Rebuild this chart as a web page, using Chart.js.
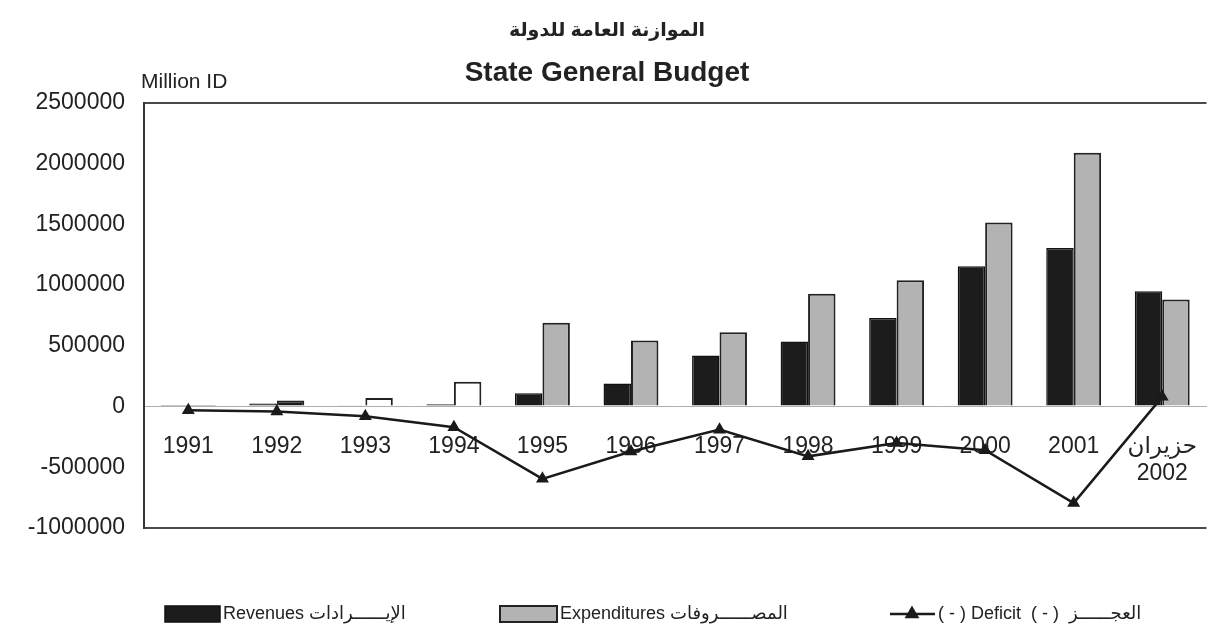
<!DOCTYPE html>
<html>
<head>
<meta charset="utf-8">
<script src="https://cdn.jsdelivr.net/npm/chart.js@4"></script>
<style>
html,body{margin:0;padding:0;background:#fff;}
#wrap{width:1214px;height:629px;position:relative;}
</style>
</head>
<body>
<div id="wrap"><canvas id="c" width="1214" height="629"></canvas></div>
<script>
// ---- data ----
const categories = ['1991','1992','1993','1994','1995','1996','1997','1998','1999','2000','2001',['حزيران','2002']];
const revenues = [4000, 25000, 6000, 20000, 110000, 190000, 420000, 535000, 730000, 1155000, 1305000, 950000];
const expenditures = [12000, 50000, 70000, 205000, 690000, 545000, 612000, 930000, 1040000, 1515000, 2090000, 882000];
const deficit = [-30000, -40000, -80000, -170000, -595000, -370000, -190000, -410000, -300000, -360000, -795000, 80000];
const yTicks = [-1000000, -500000, 0, 500000, 1000000, 1500000, 2000000, 2500000];
const titleArabic = 'الموازنة العامة للدولة';
const titleEnglish = 'State General Budget';
const unitLabel = 'Million ID';
const seriesLabels = ['Revenues الإيــــــرادات', 'Expenditures المصــــــروفات', '( - ) Deficit  ( - )  العجــــــز'];

const FONT = "'Liberation Sans', Arial, 'DejaVu Sans', sans-serif";
Chart.defaults.font.family = FONT;
Chart.defaults.color = '#222';

const DARK = '#1c1c1c';
const GRAY = '#b3b3b3';
// expenditure bars in the scan: first two small ones look dark, 1993/1994 hollow
function expFill(ctx) {
  const i = ctx.dataIndex;
  if (i <= 1) return DARK;
  if (i <= 3) return '#ffffff';
  return GRAY;
}

const extras = {
  id: 'extras',
  afterDraw(chart) {
    const ctx = chart.ctx;
    const ds = chart.data.datasets;
    ctx.save();
    // unit label
    ctx.font = '21px ' + FONT;
    ctx.fillStyle = '#222';
    ctx.textAlign = 'left';
    ctx.textBaseline = 'middle';
    ctx.fillText(unitLabel, 141, 82);

    // legend
    const y = 614;
    ctx.font = '18px ' + FONT;
    // revenues
    ctx.fillStyle = DARK;
    ctx.fillRect(165, y - 8, 55, 16);
    ctx.lineWidth = 1.5;
    ctx.strokeStyle = '#111';
    ctx.strokeRect(165, y - 8, 55, 16);
    ctx.fillStyle = '#222';
    ctx.fillText(ds[0].label, 223, y);
    // expenditures
    ctx.fillStyle = GRAY;
    ctx.fillRect(500, y - 8, 57, 16);
    ctx.strokeStyle = '#222';
    ctx.lineWidth = 2;
    ctx.strokeRect(500, y - 8, 57, 16);
    ctx.fillStyle = '#222';
    ctx.fillText(ds[1].label, 560, y);
    // deficit
    ctx.strokeStyle = ds[2].borderColor;
    ctx.lineWidth = 2.5;
    ctx.beginPath();
    ctx.moveTo(890, y);
    ctx.lineTo(935, y);
    ctx.stroke();
    ctx.fillStyle = ds[2].borderColor;
    Chart.helpers.drawPoint(ctx, {pointStyle: 'triangle', radius: 6, rotation: 0, borderWidth: 1}, 912, y);
    ctx.fillStyle = '#222';
    ctx.fillText(ds[2].label, 938, y);
    ctx.restore();
  }
};

new Chart(document.getElementById('c'), {
  data: {
    labels: categories,
    datasets: [
      {
        type: 'bar', label: seriesLabels[0], data: revenues,
        backgroundColor: DARK, borderColor: '#111', borderWidth: 1.5,
        categoryPercentage: 0.62, barPercentage: 1.0, order: 1
      },
      {
        type: 'bar', label: seriesLabels[1], data: expenditures,
        backgroundColor: expFill, borderColor: '#222', borderWidth: 2,
        categoryPercentage: 0.62, barPercentage: 1.0, order: 1
      },
      {
        type: 'line', label: seriesLabels[2], data: deficit,
        borderColor: '#1a1a1a', borderWidth: 2.5, tension: 0,
        pointStyle: 'triangle', pointRadius: 5, pointBackgroundColor: '#1a1a1a',
        pointBorderColor: '#1a1a1a', fill: false, order: 0
      }
    ]
  },
  options: {
    responsive: false,
    animation: false,
    devicePixelRatio: 1,
    layout: { padding: { left: 0, right: 0, top: 0, bottom: 101 } },
    plugins: {
      legend: { display: false },
      tooltip: { enabled: false },
      title: {
        display: true, text: titleArabic, color: '#222',
        font: { size: 19, weight: 'bold', lineHeight: 1.2 },
        padding: { top: 19, bottom: 0 }
      },
      subtitle: {
        display: true, text: titleEnglish, color: '#222',
        font: { size: 28, weight: 'bold', lineHeight: 1.2 },
        padding: { top: 15, bottom: 12.6 }
      }
    },
    scales: {
      x: {
        type: 'category',
        position: { y: 0 },
        offset: true,
        afterFit: s => { s.paddingLeft = 0; s.paddingRight = 0; },
        grid: { display: false, drawTicks: false },
        border: { display: true, color: '#b0b0b0', width: 1, dash: [2, 8] },
        ticks: { padding: 26, color: '#222', font: { size: 23 }, maxRotation: 0, autoSkip: false }
      },
      y: {
        min: -1000000, max: 2500000,
        afterBuildTicks: s => { s.ticks = yTicks.map(v => ({ value: v })); },
        afterFit: s => { s.width = 144; },
        grid: {
          drawTicks: false, lineWidth: 2,
          color: c => (c.tick && (c.tick.value === 2500000 || c.tick.value === -1000000)) ? '#4a4a4a' : 'rgba(0,0,0,0)'
        },
        border: { display: true, color: '#333', width: 2 },
        ticks: { padding: 19, color: '#222', font: { size: 23 }, callback: v => String(v) }
      }
    }
  },
  plugins: [extras]
});
</script>
</body>
</html>
